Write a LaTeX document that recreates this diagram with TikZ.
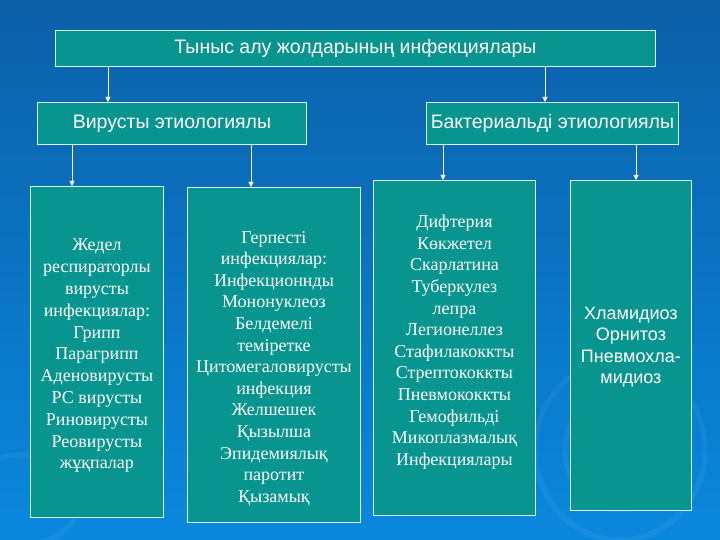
\documentclass[tikz,border=0pt]{standalone}
\usepackage{fontspec}
\setmainfont{Liberation Serif}
\setsansfont{Liberation Sans}
\usetikzlibrary{arrows.meta,calc}
\definecolor{bgtop}{HTML}{0B60A8}
\definecolor{bgbot}{HTML}{0A88DE}
\definecolor{boxfill}{HTML}{08958F}
\definecolor{boxline}{HTML}{D8FFFF}
\tikzset{
  box/.style={draw=boxline, line width=0.9pt, fill=boxfill, text=white, inner sep=0pt, anchor=north west, align=center},
  hdr/.style={box, font=\sffamily\fontsize{19.5}{22}\selectfont},
  serbox/.style={box},
  sanbox/.style={box},
  sertext/.style={text=white, align=center, anchor=north, inner sep=0pt, font=\rmfamily\fontsize{18}{21.6}\selectfont},
  santext/.style={text=white, align=center, anchor=north, inner sep=0pt, font=\sffamily\fontsize{18}{21.3}\selectfont},
  arr/.style={draw=white, line width=0.9pt, -{Triangle[length=5pt,width=5pt]}},
  swirl/.style={draw=white, opacity=0.05, line width=5pt}
}
\begin{document}
\begin{tikzpicture}[x=1pt,y=-1pt]
\useasboundingbox (0,0) rectangle (720,540);
\shade[top color=bgtop, bottom color=bgbot] (0,0) rectangle (720,540);
% faint decorative swirls
\draw[swirl] (620,450) ellipse (55 and 60);
\draw[swirl] (620,450) ellipse (85 and 90);
\draw[swirl] (20,500) ellipse (60 and 45);

\node[hdr, minimum width=600pt, minimum height=36pt] (top) at (55,30) {Тыныс алу жолдарының инфекциялары};
\node[hdr, minimum width=269pt, minimum height=42pt] (vir) at (37,102) {Вирусты этиологиялы};
\node[hdr, minimum width=252pt, minimum height=42pt] (bak) at (426,102) {Бактериальді этиологиялы};

\node[serbox, minimum width=133pt, minimum height=331pt] (b1) at (30,186) {};
\node[serbox, minimum width=173pt, minimum height=335pt] (b2) at (187,187) {};
\node[serbox, minimum width=162pt, minimum height=335pt] (b3) at (373,180) {};
\node[sanbox, minimum width=121pt, minimum height=330pt] (b4) at (570,180) {};

\node[sertext, font=\rmfamily\fontsize{18}{21.8}\selectfont] (t1) at ($(b1.north)+(0,53)$) {Жедел\\респираторлы\\вирусты\\инфекциялар:\\Грипп\\Парагрипп\\Аденовирусты\\РС вирусты\\Риновирусты\\Реовирусты\\жұқпалар};
\node[sertext] (t2) at ($(b2.north)+(0,44)$) {Герпесті\\инфекциялар:\\Инфекционнды\\Мононуклеоз\\Белдемелі\\теміретке\\Цитомегаловирусты\\инфекция\\Желшешек\\Қызылша\\Эпидемиялық\\паротит\\Қызамық};
\node[sertext] (t3) at ($(b3.north)+(0,35)$) {Дифтерия\\Көкжетел\\Скарлатина\\Туберкулез\\лепра\\Легионеллез\\Стафилакоккты\\Стрептококкты\\Пневмококкты\\Гемофильді\\Микоплазмалық\\Инфекциялары};
\node[santext] (t4) at ($(b4.north)+(0,127)$) {Хламидиоз\\Орнитоз\\Пневмохла-\\мидиоз};

\coordinate (c1) at (108,0);
\coordinate (c2) at (545,0);
\coordinate (a1) at (72,0);
\coordinate (a2) at (251,0);
\coordinate (a3) at (443,0);
\coordinate (a4) at (636,0);
\draw[arr] (top.south -| c1) -- (vir.north -| c1);
\draw[arr] (top.south -| c2) -- (bak.north -| c2);
\draw[arr] (vir.south -| a1) -- (b1.north -| a1);
\draw[arr] (vir.south -| a2) -- (b2.north -| a2);
\draw[arr] (bak.south -| a3) -- (b3.north -| a3);
\draw[arr] (bak.south -| a4) -- (b4.north -| a4);
\end{tikzpicture}
\end{document}
